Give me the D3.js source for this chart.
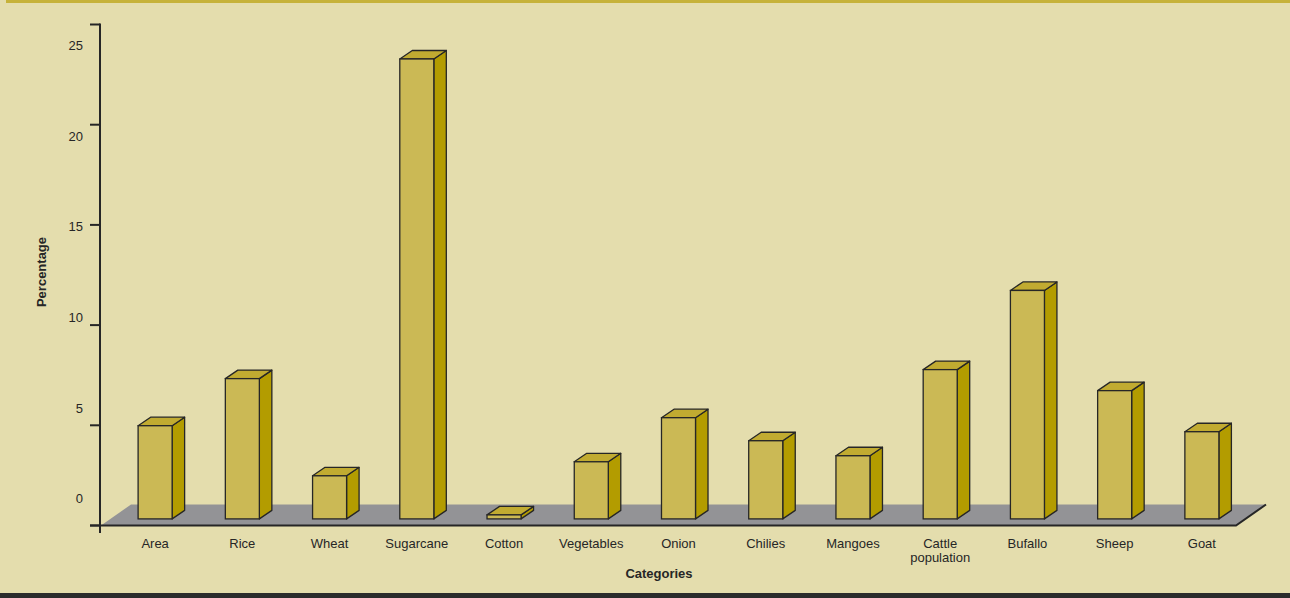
<!DOCTYPE html>
<html>
<head>
<meta charset="utf-8">
<script src="https://cdn.jsdelivr.net/npm/d3@7/dist/d3.min.js"></script>
<style>
  html, body { margin: 0; padding: 0; background: #e4ddad; }
  svg { display: block; }
  text { font-family: "Liberation Sans", Arial, sans-serif; fill: #262626; }
</style>
</head>
<body>
<svg id="chart" width="1290" height="598"></svg>
<script>
// Share of the district in state totals (%)
const categories = ["Area", "Rice", "Wheat", "Sugarcane", "Cotton", "Vegetables", "Onion",
  "Chilies", "Mangoes", "Cattle population", "Bufallo", "Sheep", "Goat"];
const percentages = [4.65, 7.0, 2.15, 22.95, 0.2, 2.85, 5.05, 3.9, 3.15, 7.45, 11.4, 6.4, 4.35];
const tickValues = [0, 5, 10, 15, 20, 25];

const W = 1290, H = 598;
const svg = d3.select("#chart");

// page frame: background, gold top rule, dark bottom rule
svg.append("rect").attr("width", W).attr("height", H).attr("fill", "#e4ddad");
svg.append("rect").attr("x", 6).attr("y", 0).attr("width", W - 6).attr("height", 3).attr("fill", "#c6b23a");
svg.append("rect").attr("x", 0).attr("y", 593).attr("width", W).attr("height", 5).attr("fill", "#2b2b2b");

// plot geometry
const axisX = 100, floorY = 525.5;
const floorRight = 1236;
const depthX = 30, depthY = -21;          // full floor depth
const barShiftX = 9.5, barShiftY = -6.6;  // front face of bars sits inside the floor
const barDX = 12.5, barDY = -8.5;         // bar depth

const y = d3.scaleLinear().domain([0, 25]).range([floorY, 24.5]);
const yLabel = d3.scaleLinear().domain([0, 25]).range([498.7, 45.7]);
const x = d3.scaleBand().domain(categories).range([axisX + 2, floorRight])
  .paddingInner(0.61).paddingOuter(0.305);

// floor
svg.append("polygon")
  .attr("points", [[axisX + 1, floorY], [floorRight, floorY],
    [floorRight + depthX, floorY + depthY], [axisX + 1 + depthX, floorY + depthY]].join(" "))
  .attr("fill", "#939396");

// bars
const stroke = "#262626";
const bars = svg.append("g").selectAll("g").data(categories).join("g");
bars.each(function (c, i) {
  const g = d3.select(this);
  const x0 = x(c) + barShiftX, x1 = x0 + x.bandwidth();
  const yb = y(0) + barShiftY, yt = y(percentages[i]) + barShiftY;
  // side
  g.append("polygon")
    .attr("points", [[x1, yt], [x1 + barDX, yt + barDY], [x1 + barDX, yb + barDY], [x1, yb]].join(" "))
    .attr("fill", "#b39c00").attr("stroke", stroke).attr("stroke-width", 1.3).attr("stroke-linejoin", "round");
  // top
  g.append("polygon")
    .attr("points", [[x0, yt], [x0 + barDX, yt + barDY], [x1 + barDX, yt + barDY], [x1, yt]].join(" "))
    .attr("fill", "#c1ab31").attr("stroke", stroke).attr("stroke-width", 1.3).attr("stroke-linejoin", "round");
  // front
  g.append("rect")
    .attr("x", x0).attr("y", yt).attr("width", x1 - x0).attr("height", yb - yt)
    .attr("fill", "#cbb955").attr("stroke", stroke).attr("stroke-width", 1.3);
});

// floor front edge and right edge
svg.append("path")
  .attr("d", `M${axisX - 10},${floorY}H${floorRight}L${floorRight + depthX},${floorY + depthY}`)
  .attr("fill", "none").attr("stroke", stroke).attr("stroke-width", 2);

// value axis
svg.append("line").attr("x1", axisX).attr("x2", axisX).attr("y1", 23.5).attr("y2", 533)
  .attr("stroke", stroke).attr("stroke-width", 2);
svg.append("g").selectAll("line").data(tickValues).join("line")
  .attr("x1", axisX - 10).attr("x2", axisX)
  .attr("y1", d => y(d)).attr("y2", d => y(d))
  .attr("stroke", stroke).attr("stroke-width", 2);
svg.append("g").selectAll("text").data(tickValues).join("text")
  .attr("x", 83).attr("y", d => yLabel(d)).attr("dy", "0.35em")
  .attr("text-anchor", "end").attr("font-size", 13).text(d => d);

// category labels
svg.append("g").selectAll("text").data(categories).join("text")
  .attr("text-anchor", "middle").attr("font-size", 13)
  .attr("x", c => x(c) + barShiftX + x.bandwidth() / 2)
  .attr("y", 548)
  .each(function (c) {
    const words = c.split(" ");
    const t = d3.select(this);
    words.forEach((w, k) => t.append("tspan")
      .attr("x", x(c) + barShiftX + x.bandwidth() / 2)
      .attr("dy", k === 0 ? 0 : 13.5).text(w));
  });

// axis titles
svg.append("text").attr("x", 659).attr("y", 578).attr("text-anchor", "middle")
  .attr("font-size", 13).attr("font-weight", "bold").text("Categories");
svg.append("text").attr("transform", "translate(46,272) rotate(-90)")
  .attr("text-anchor", "middle").attr("font-size", 13).attr("font-weight", "bold").text("Percentage");
</script>
</body>
</html>
